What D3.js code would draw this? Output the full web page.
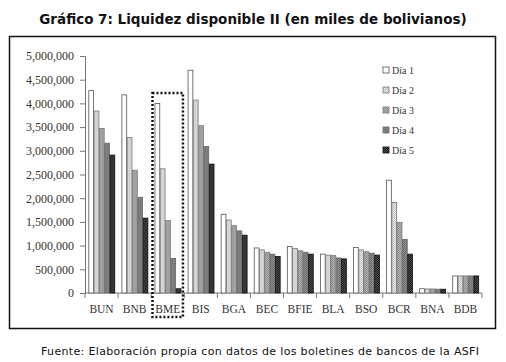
<!DOCTYPE html>
<html>
<head>
<meta charset="utf-8">
<script src="https://cdn.jsdelivr.net/npm/d3@7"></script>
<style>
  body { margin: 0; background: #fff; }
  svg { display: block; }
  .tick-lbl { font-family: "Liberation Serif", "Times New Roman", serif; font-size: 12px; fill: #333; }
  .cat-lbl { font-family: "Liberation Serif", "Times New Roman", serif; font-size: 11.5px; fill: #333; }
  .leg-lbl { font-family: "Liberation Serif", "Times New Roman", serif; font-size: 10px; fill: #333; }
</style>
</head>
<body>
<div id="chart"></div>
<script>
const banks = ['BUN','BNB','BME','BIS','BGA','BEC','BFIE','BLA','BSO','BCR','BNA','BDB'];
const days = ['Día 1','Día 2','Día 3','Día 4','Día 5'];

const dia1 = [4270000, 4180000, 4000000, 4700000, 1660000, 950000, 980000, 820000, 960000, 2380000, 90000, 360000];
const dia2 = [3840000, 3280000, 2620000, 4070000, 1540000, 910000, 940000, 800000, 910000, 1910000, 85000, 360000];
const dia3 = [3470000, 2590000, 1530000, 3530000, 1420000, 860000, 890000, 790000, 870000, 1490000, 85000, 360000];
const dia4 = [3160000, 2020000, 730000, 3090000, 1310000, 820000, 860000, 740000, 840000, 1130000, 80000, 360000];
const dia5 = [2910000, 1580000, 90000, 2720000, 1220000, 770000, 820000, 720000, 800000, 820000, 80000, 360000];
const series = [dia1, dia2, dia3, dia4, dia5];

const yTicks = [0, 500000, 1000000, 1500000, 2000000, 2500000, 3000000, 3500000, 4000000, 4500000, 5000000];

const W = 506, H = 362;

const svg = d3.select('#chart').append('svg')
  .attr('width', W)
  .attr('height', H);

// patterns for the grey bar fills
const defs = svg.append('defs');
const pats = [
  {id: 'p1', bg: '#ffffff', dot: null},
  {id: 'p2', bg: '#ececec', dot: '#bdbdbd'},
  {id: 'p3', bg: '#b8b8b8', dot: '#8a8a8a'},
  {id: 'p4', bg: '#8c8c8c', dot: '#6e6e6e'},
  {id: 'p5', bg: '#151515', dot: '#555555'}
];
pats.forEach(p => {
  const pt = defs.append('pattern')
    .attr('id', p.id)
    .attr('patternUnits', 'userSpaceOnUse')
    .attr('width', 2).attr('height', 2);
  pt.append('rect').attr('width', 2).attr('height', 2).attr('fill', p.bg);
  if (p.dot) {
    pt.append('rect').attr('width', 1).attr('height', 1).attr('fill', p.dot);
    pt.append('rect').attr('x', 1).attr('y', 1).attr('width', 1).attr('height', 1).attr('fill', p.dot);
  }
});
const strokes = ['#555', '#777', '#777', '#666', '#111'];

// title
svg.append('text')
  .attr('x', W / 2)
  .attr('y', 24)
  .attr('text-anchor', 'middle')
  .style('font-family', '"DejaVu Sans", sans-serif')
  .style('font-size', '13.5px')
  .style('font-weight', 600)
  .style('fill', '#111')
  .text('Gráfico 7: Liquidez disponible II (en miles de bolivianos)');

// frame
svg.append('rect')
  .attr('x', 9.5).attr('y', 36.5)
  .attr('width', 486).attr('height', 292)
  .attr('fill', 'none')
  .attr('stroke', '#111')
  .attr('stroke-width', 1.5);

const margin = {top: 56, right: 24, bottom: 69, left: 85};

const y = d3.scaleLinear()
  .domain([0, 5000000])
  .range([H - margin.bottom, margin.top]);

const x0 = d3.scaleBand()
  .domain(banks)
  .range([margin.left, W - margin.right])
  .paddingInner(0.2)
  .paddingOuter(0.1);

const x1 = d3.scaleBand()
  .domain(d3.range(days.length))
  .range([0, x0.bandwidth()])
  .padding(0);

// y axis
const yAxis = svg.append('g')
  .attr('transform', `translate(${margin.left},0)`)
  .call(d3.axisLeft(y).tickValues(yTicks).tickSize(5).tickPadding(6).tickFormat(d3.format(',')));
yAxis.select('.domain').attr('stroke', '#777');
yAxis.selectAll('.tick line').attr('stroke', '#777');
yAxis.selectAll('.tick text').attr('class', 'tick-lbl').attr('fill', null);

// x axis line with boundary ticks
const y0 = y(0);
svg.append('line')
  .attr('x1', margin.left).attr('x2', W - margin.right)
  .attr('y1', y0).attr('y2', y0)
  .attr('stroke', '#777');
const step = x0.step();
const bounds = banks.map(b => x0(b) - step * x0.paddingInner() / 2).concat([W - margin.right]);
svg.selectAll('.xb')
  .data(bounds)
  .enter().append('line')
  .attr('x1', d => d).attr('x2', d => d)
  .attr('y1', y0).attr('y2', y0 + 5)
  .attr('stroke', '#777');

svg.selectAll('.cat-lbl')
  .data(banks)
  .enter().append('text')
  .attr('class', 'cat-lbl')
  .attr('x', d => x0(d) + x0.bandwidth() / 2)
  .attr('y', y0 + 20)
  .attr('text-anchor', 'middle')
  .text(d => d);

// bars
const groups = svg.append('g').selectAll('g')
  .data(banks)
  .enter().append('g')
  .attr('transform', d => `translate(${x0(d)},0)`);

groups.selectAll('rect')
  .data((d, i) => series.map((s, k) => ({k: k, v: s[i]})))
  .enter().append('rect')
  .attr('x', d => x1(d.k) + 0.5)
  .attr('y', d => y(d.v))
  .attr('width', x1.bandwidth() - 0.5)
  .attr('height', d => y0 - y(d.v))
  .attr('fill', d => `url(#${pats[d.k].id})`)
  .attr('stroke', d => strokes[d.k])
  .attr('stroke-width', 0.8);

// dotted highlight around BME
svg.append('rect')
  .attr('x', x0('BME') - step * 0.06)
  .attr('y', y(4220000))
  .attr('width', x0.bandwidth() + step * 0.12)
  .attr('height', (y0 + 24) - y(4220000))
  .attr('fill', 'none')
  .attr('stroke', '#111')
  .attr('stroke-width', 2.5)
  .attr('stroke-dasharray', '2,2');

// legend
const legend = svg.append('g').attr('transform', 'translate(383,68)');
const li = legend.selectAll('g')
  .data(days)
  .enter().append('g')
  .attr('transform', (d, i) => `translate(0,${i * 20})`);
li.append('rect')
  .attr('width', 6).attr('height', 6)
  .attr('y', -1)
  .attr('fill', (d, i) => `url(#${pats[i].id})`)
  .attr('stroke', (d, i) => strokes[i])
  .attr('stroke-width', 0.8);
li.append('text')
  .attr('class', 'leg-lbl')
  .attr('x', 9)
  .attr('y', 6)
  .text(d => d);

// source note
svg.append('text')
  .attr('x', 260)
  .attr('y', 355)
  .attr('text-anchor', 'middle')
  .attr('textLength', 438)
  .attr('lengthAdjust', 'spacing')
  .style('font-family', '"DejaVu Sans", sans-serif')
  .style('font-size', '11px')
  .style('fill', '#111')
  .text('Fuente: Elaboración propia con datos de los boletines de bancos de la ASFI');
</script>
</body>
</html>
